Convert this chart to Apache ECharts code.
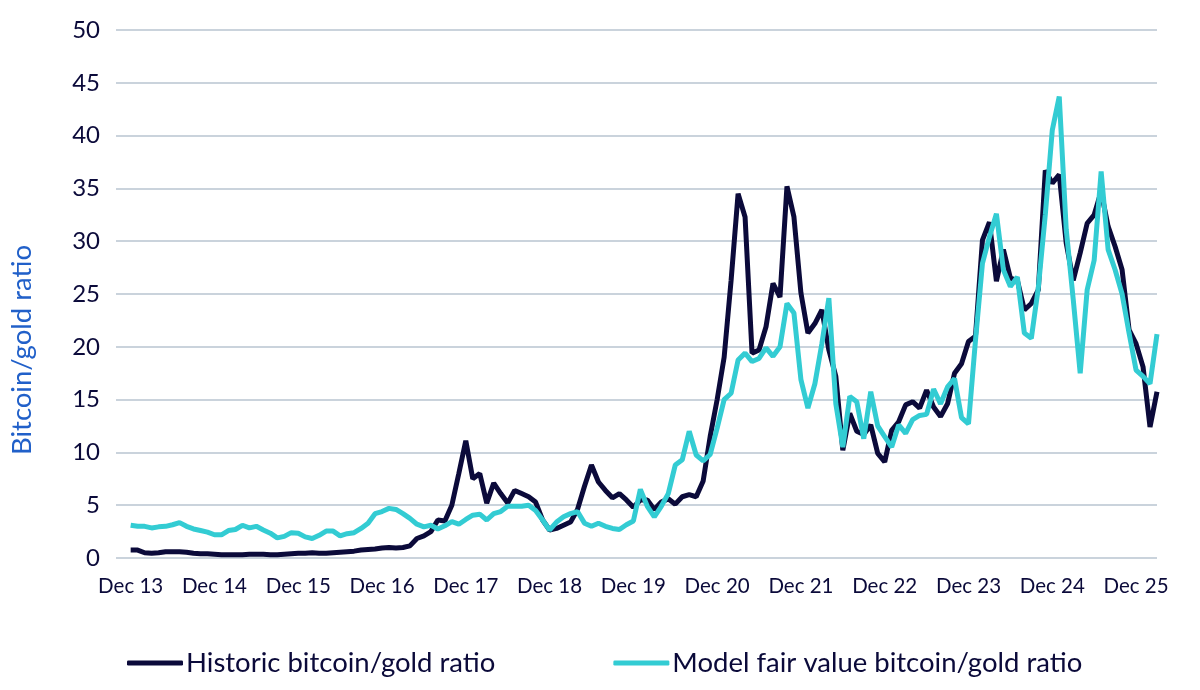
<!DOCTYPE html>
<html>
<head>
<meta charset="utf-8">
<script src="https://cdn.jsdelivr.net/npm/echarts@6/dist/echarts.min.js"></script>
<style>
    html, body { margin: 0; padding: 0; background: #fff; }
    #myChart { width: 1200px; height: 690px; }
</style>
</head>
<body>
<div id="myChart"></div>
<script>
// monthly points, Dec 2013 .. Mar 2026
var tickLabels = ['Dec 13', 'Dec 14', 'Dec 15', 'Dec 16', 'Dec 17', 'Dec 18', 'Dec 19',
    'Dec 20', 'Dec 21', 'Dec 22', 'Dec 23', 'Dec 24', 'Dec 25'];

var historic = [
    0.75, 0.75, 0.5, 0.45, 0.5, 0.6, 0.6, 0.6, 0.55, 0.45, 0.4, 0.4,
    0.35, 0.3, 0.3, 0.3, 0.3, 0.35, 0.35, 0.35, 0.3, 0.3, 0.35, 0.4,
    0.45, 0.45, 0.5, 0.45, 0.45, 0.5, 0.55, 0.6, 0.65, 0.75, 0.8, 0.85,
    0.95, 1.0, 0.95, 1.0, 1.15, 1.85, 2.1, 2.5, 3.6, 3.5, 5.0, 8.0,
    11.1, 7.5, 8.0, 5.2, 7.1, 6.1, 5.2, 6.4, 6.1, 5.8, 5.3, 3.6,
    2.65, 2.8, 3.1, 3.4, 4.6, 6.8, 8.8, 7.2, 6.4, 5.7, 6.1, 5.5,
    4.8, 5.5, 5.5, 4.6, 5.3, 5.6, 5.1, 5.8, 6.0, 5.8, 7.3, 11.5,
    15.0, 19.0, 26.3, 34.5, 32.3, 19.4, 19.7, 21.9, 26.0, 24.7, 35.2, 32.3,
    25.1, 21.3, 22.2, 23.5, 19.7, 17.2, 10.2, 13.7, 12.0, 11.7, 12.6, 9.9,
    9.1, 12.1, 12.9, 14.5, 14.8, 14.2, 15.9, 14.3, 13.4, 14.6, 17.5, 18.4,
    20.5, 21.0, 30.1, 31.8, 26.2, 29.2, 26.5, 26.3, 23.5, 24.1, 25.4, 36.7,
    35.5, 36.3, 29.8, 26.3, 28.9, 31.7, 32.5, 34.7, 31.4, 29.5, 27.3, 21.6,
    20.3, 18.1, 12.4, 15.75
];

var model = [
    3.1, 3.0, 3.0, 2.85, 2.95, 3.0, 3.15, 3.35, 3.0, 2.75, 2.6, 2.45,
    2.2, 2.2, 2.6, 2.7, 3.1, 2.85, 3.0, 2.65, 2.35, 1.9, 2.05, 2.4,
    2.35, 2.0, 1.85, 2.15, 2.55, 2.55, 2.1, 2.3, 2.4, 2.8, 3.3, 4.2,
    4.4, 4.7, 4.6, 4.2, 3.75, 3.2, 2.95, 3.1, 2.75, 3.05, 3.45, 3.2,
    3.65, 4.05, 4.15, 3.6, 4.2, 4.4, 4.9, 4.9, 4.9, 5.0, 4.5, 3.6,
    2.65, 3.4, 3.9, 4.2, 4.4, 3.3, 3.0, 3.3, 3.0, 2.8, 2.7, 3.15,
    3.5, 6.5, 4.9, 3.9, 4.9, 6.1, 8.8, 9.3, 12.0, 9.75, 9.2, 9.8,
    12.3, 15.0, 15.6, 18.75, 19.4, 18.6, 18.9, 19.9, 19.1, 20.0, 24.1, 23.2,
    16.9, 14.2, 16.5, 20.3, 24.6, 14.6, 10.5, 15.3, 14.8, 11.3, 15.75, 12.5,
    11.5, 10.5, 12.6, 11.8, 13.1, 13.5, 13.6, 16.0, 14.6, 16.2, 17.0, 13.3,
    12.7, 20.6, 27.9, 30.4, 32.6, 27.3, 25.7, 26.6, 21.3, 20.8, 25.6, 32.5,
    40.5, 43.7, 31.1, 24.5, 17.5, 25.4, 28.2, 36.6, 29.2, 27.3, 25.0, 21.3,
    17.8, 17.2, 16.5, 21.2
];

var navy = '#0b0a3a', cyan = '#33ccd3';
var font = 'Lato, "Noto Sans", sans-serif';

var toPoints = function (arr) {
    return arr.map(function (v, i) {
        return [i, v];
    });
};

var labelValues = tickLabels.map(function (t, i) {
    return i * 12;
});

var myChart = echarts.init(document.getElementById('myChart')),
    option = {
        animation: false,
        grid: {
            left: 110,
            right: 43,
            top: 30,
            bottom: 132
        },
        legend: {
            left: 122,
            top: 644,
            itemGap: 118,
            itemWidth: 56,
            itemHeight: 5,
            icon: 'roundRect',
            textStyle: {
                color: navy,
                fontSize: 27.5,
                fontFamily: font,
                padding: [0, 0, 0, -2]
            },
            data: ['Historic bitcoin/gold ratio', 'Model fair value bitcoin/gold ratio']
        },
        xAxis: {
            type: 'value',
            min: -2.1,
            max: 147,
            axisLine: {show: false},
            axisTick: {show: false},
            splitLine: {show: false},
            axisLabel: {
                customValues: labelValues,
                color: navy,
                fontSize: 20.5,
                fontFamily: font,
                margin: 18,
                formatter: function (v) {
                    return tickLabels[Math.round(v / 12)];
                }
            }
        },
        yAxis: {
            type: 'value',
            min: 0,
            max: 50,
            interval: 5,
            name: 'Bitcoin/gold ratio',
            nameLocation: 'middle',
            nameGap: 80,
            nameTextStyle: {
                color: '#2160c9',
                fontSize: 27.5,
                fontFamily: font,
                // title sits lower than the axis centre in the original
                padding: [0, 112, 0, 0]
            },
            axisLine: {show: false},
            axisTick: {show: false},
            axisLabel: {
                color: navy,
                fontSize: 24,
                fontFamily: font,
                margin: 16
            },
            splitLine: {
                lineStyle: {color: '#b9c4d0', width: 1.5}
            }
        },
        series: [
            {
                name: 'Historic bitcoin/gold ratio',
                type: 'line',
                showSymbol: false,
                color: navy,
                lineStyle: {width: 5, color: navy},
                data: toPoints(historic)
            },
            {
                name: 'Model fair value bitcoin/gold ratio',
                type: 'line',
                showSymbol: false,
                color: cyan,
                lineStyle: {width: 5, color: cyan},
                data: toPoints(model)
            }
        ]
    };
myChart.setOption(option);
</script>
</body>
</html>
